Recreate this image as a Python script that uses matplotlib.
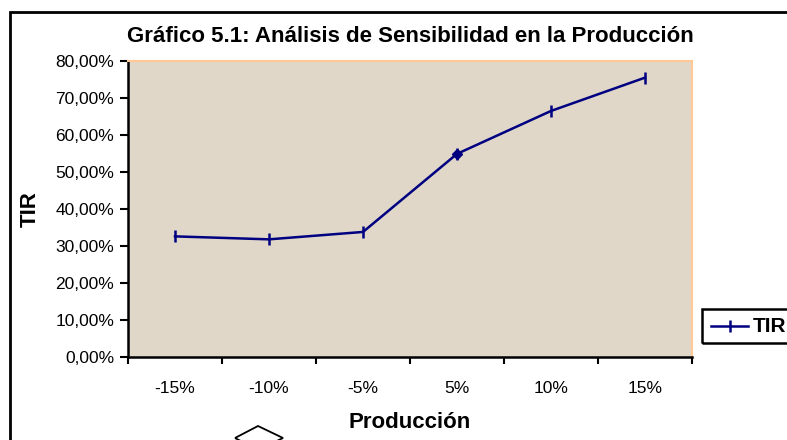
import matplotlib
matplotlib.use("Agg")
import matplotlib.pyplot as plt
from matplotlib.patches import Rectangle, Polygon
from matplotlib.lines import Line2D
from matplotlib.ticker import FuncFormatter, MultipleLocator

plt.rcParams['font.family'] = ['Liberation Sans', 'DejaVu Sans']

categories = ['-15%', '-10%', '-5%', '5%', '10%', '15%']
tir = [32.6, 31.8, 33.8, 54.9, 66.5, 75.5]

W, H = 787, 440
fig = plt.figure(figsize=(W / 100, H / 100), dpi=100)
fig.patch.set_facecolor('white')

# outer chart border (extends beyond right/bottom)
fig.add_artist(Rectangle((10 / W, -0.1), 1.2, 1 - 12 / H + 0.1, transform=fig.transFigure,
                         fill=False, edgecolor='black', linewidth=2.0))

left, right, top, bottom = 128, 692, 61, 357
ax = fig.add_axes([left / W, 1 - bottom / H, (right - left) / W, (bottom - top) / H])
ax.set_facecolor('#E0D7C9')

x = list(range(len(categories)))
ax.plot(x, tir, color='#000080', linewidth=1.8, marker='|', markersize=9,
        markeredgewidth=1.8)
ax.plot([3], [tir[3]], color='#000080', marker='D', markersize=5, linestyle='none')

ax.set_xlim(-0.5, len(categories) - 0.5)
ax.set_ylim(0, 80)
ax.yaxis.set_major_locator(MultipleLocator(10))
ax.yaxis.set_major_formatter(FuncFormatter(lambda v, p: f"{v:.2f}%".replace('.', ',')))
ax.set_xticks([i - 0.5 for i in range(len(categories) + 1)])
ax.set_xticklabels([])
ax.set_xticks(x, minor=True)
ax.set_xticklabels(categories, minor=True)
ax.tick_params(axis='x', which='major', direction='out', length=5, width=1.5)
ax.tick_params(axis='x', which='minor', length=0, pad=17, labelsize=12.5)
ax.tick_params(axis='y', direction='out', length=6, width=1.5, labelsize=12.5, pad=4)

for s in ['left', 'bottom']:
    ax.spines[s].set_color('black')
    ax.spines[s].set_linewidth(1.8)
for s in ['top', 'right']:
    ax.spines[s].set_color('#FFC896')
    ax.spines[s].set_linewidth(1.5)

fig.text((left + right) / 2 / W, 1 - 37 / H, 'Gráfico 5.1: Análisis de Sensibilidad en la Producción',
         ha='center', va='center', fontsize=16, fontweight='bold')
fig.text(410 / W, 1 - 422 / H, 'Producción', ha='center', va='center', fontsize=16, fontweight='bold')
fig.text(30 / W, 1 - 209 / H, 'TIR', ha='center', va='center', rotation=90, fontsize=16,
         fontweight='bold')

# legend box
fig.add_artist(Rectangle((702 / W, 1 - 343 / H), 0.2, 34 / H, transform=fig.transFigure,
                         fill=False, edgecolor='black', linewidth=1.8))
fig.add_artist(Line2D([711 / W, 748 / W], [1 - 326 / H, 1 - 326 / H], transform=fig.transFigure,
                      color='#000080', linewidth=1.8))
fig.add_artist(Line2D([729.5 / W], [1 - 326 / H], transform=fig.transFigure,
                      color='#000080', marker='|', markersize=9, markeredgewidth=1.8,
                      linestyle='none'))
fig.text(753 / W, 1 - 326 / H, 'TIR', ha='left', va='center', fontsize=15, fontweight='bold')

# partial shape at bottom
fig.add_artist(Polygon([(235 / W, 1 - 438 / H), (258 / W, 1 - 426 / H), (283 / W, 1 - 438 / H),
                        (258 / W, 1 - 450 / H)], closed=True, transform=fig.transFigure,
                       fill=False, edgecolor='black', linewidth=1.3))

fig.savefig('out.png', dpi=100)
